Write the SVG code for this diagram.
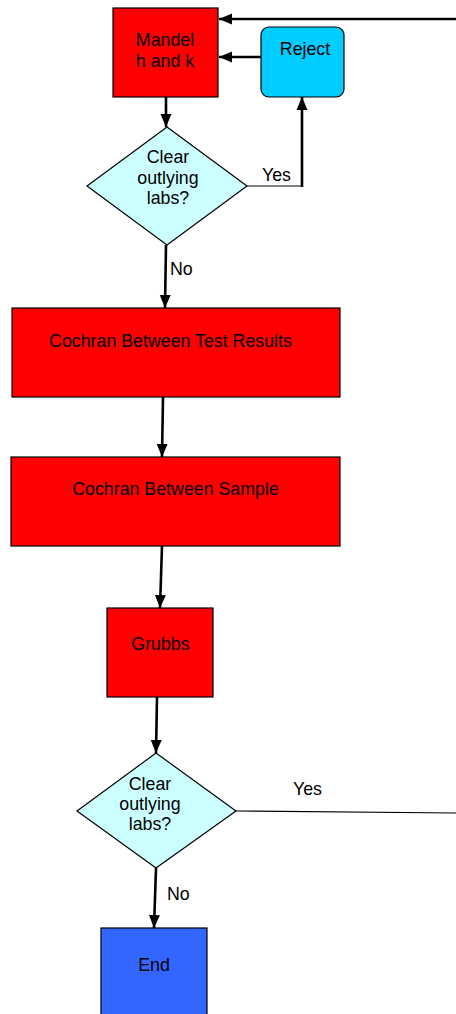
<svg xmlns="http://www.w3.org/2000/svg" width="456" height="1014" viewBox="0 0 456 1014">
<defs>
<style>
.box{stroke:#000;stroke-width:1.2}
.red{fill:#FF0000}
.dia{fill:#CCFFFF;stroke:#000;stroke-width:1.2}
.t{font-family:"Liberation Sans",Arial,sans-serif;font-size:17.8px;fill:#000;text-anchor:middle}
.l{font-family:"Liberation Sans",Arial,sans-serif;font-size:17.8px;fill:#000}
.c{fill:none;stroke:#000;stroke-width:2.6}
.thin{fill:none;stroke:#000;stroke-width:1.2}
</style>
<marker id="ah" markerUnits="userSpaceOnUse" markerWidth="14" markerHeight="14" viewBox="0 0 14 14" refX="13" refY="7" orient="auto">
<path d="M0,1.5 L13,7 L0,12.5 Z" fill="#000"/>
</marker>
</defs>
<g id="connectors">
<line class="c" x1="456" y1="19" x2="219" y2="19" marker-end="url(#ah)"/>
<line class="c" x1="261" y1="57" x2="219" y2="57" marker-end="url(#ah)"/>
<line class="c" x1="166" y1="97" x2="166" y2="127" marker-end="url(#ah)"/>
<polyline class="thin" points="247,186 302,186"/>
<line class="c" x1="302" y1="187" x2="302" y2="97" marker-end="url(#ah)"/>
<line class="c" x1="166" y1="245" x2="165" y2="308" marker-end="url(#ah)"/>
<line class="c" x1="163" y1="397" x2="162" y2="457" marker-end="url(#ah)"/>
<line class="c" x1="162" y1="546" x2="160" y2="608" marker-end="url(#ah)"/>
<line class="c" x1="157" y1="697" x2="156" y2="753" marker-end="url(#ah)"/>
<line class="thin" x1="236" y1="811" x2="456" y2="813"/>
<line class="c" x1="156" y1="868" x2="154" y2="928" marker-end="url(#ah)"/>
<text class="l" x="262" y="181">Yes</text>
<text class="l" x="170" y="275">No</text>
<text class="l" x="293" y="795">Yes</text>
<text class="l" x="167" y="900">No</text>
</g>
<g id="mandel">
<rect class="box red" x="113" y="8" width="105" height="89"/>
<text class="t" x="165" y="46">Mandel</text>
<text class="t" x="165" y="67">h and k</text>
</g>
<g id="reject">
<rect class="box" x="261" y="27" width="83" height="70" rx="8" fill="#00CCFF"/>
<text class="t" x="305" y="55">Reject</text>
</g>
<g id="decision1">
<polygon class="dia" points="167,127 247,186 167,245 87,186"/>
<text class="t" x="168" y="163">Clear</text>
<text class="t" x="168" y="184">outlying</text>
<text class="t" x="168" y="204">labs?</text>
</g>
<g id="cochran1">
<rect class="box red" x="12" y="308" width="328" height="89"/>
<text class="t" x="170.5" y="347">Cochran Between Test Results</text>
</g>
<g id="cochran2">
<rect class="box red" x="11" y="457" width="329" height="89"/>
<text class="t" x="175.5" y="495">Cochran Between Sample</text>
</g>
<g id="grubbs">
<rect class="box red" x="107" y="608" width="106" height="89"/>
<text class="t" x="160.5" y="650">Grubbs</text>
</g>
<g id="decision2">
<polygon class="dia" points="156,753 236,811 156,868 77,811"/>
<text class="t" x="150" y="790">Clear</text>
<text class="t" x="150" y="810">outlying</text>
<text class="t" x="150" y="830">labs?</text>
</g>
<g id="end">
<rect class="box" x="101" y="928" width="106" height="90" fill="#3366FF"/>
<text class="t" x="154" y="971">End</text>
</g>
</svg>
